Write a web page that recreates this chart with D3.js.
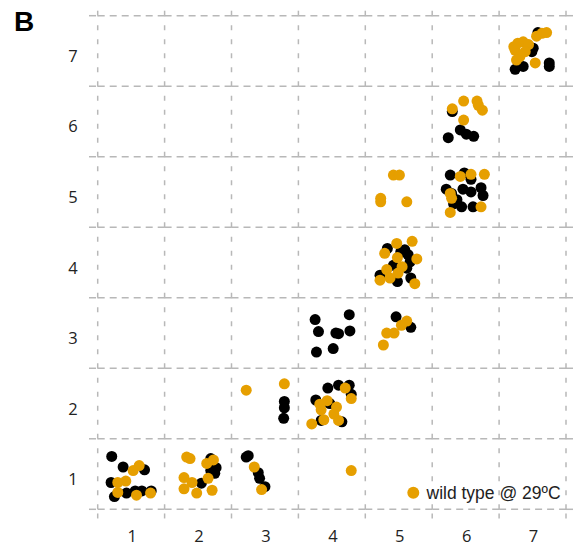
<!DOCTYPE html>
<html>
<head>
<style>
  body { margin: 0; background: #fff; }
  .tick-label { font: 16.5px "Open Sans", sans-serif; fill: #222; text-anchor: middle; }
  .panel-tag { font: bold 28px "Liberation Sans", Arial, sans-serif; fill: #000; }
  .legend text { font: 17.5px "Liberation Sans", Arial, sans-serif; fill: #222; }
</style>
<script src="https://d3js.org/d3.v7.min.js"></script>
</head>
<body>
<svg width="576" height="550"></svg>
<script>
// categories on both axes
var xTicks = [1, 2, 3, 4, 5, 6, 7];
var yTicks = [1, 2, 3, 4, 5, 6, 7];

// jittered points, [x, y]
var blackPoints = [
  [0.71,1.25],[0.88,1.10],[1.20,1.06],[0.70,0.88],[0.75,0.68],[0.93,0.73],[1.06,0.76],[1.16,0.76],[1.30,0.76],
  [2.19,1.22],[2.19,1.05],[2.25,1.01],[2.05,0.87],[2.27,1.09],
  [2.72,1.24],[2.75,1.26],[2.90,1.02],[2.92,0.94],[3.00,0.82],
  [3.29,2.03],[3.29,1.94],[3.28,1.79],
  [3.94,2.22],[4.10,2.26],[4.26,2.26],[4.29,2.13],[3.76,2.05],[3.97,2.00],[3.84,1.76],[4.15,1.74],
  [3.75,3.19],[3.80,3.02],[4.06,3.00],[4.10,2.99],[4.26,3.26],[4.27,3.03],[3.77,2.73],[4.02,2.78],
  [4.96,3.23],[5.18,3.08],
  [4.83,4.20],[5.09,4.18],[5.14,4.11],[4.92,3.96],[5.12,3.92],[5.18,3.78],[4.72,3.82],[4.98,3.73],[5.17,4.01],[5.03,4.15],
  [5.77,5.24],[5.98,5.27],[6.08,5.18],[5.71,5.04],[5.96,5.04],[6.08,5.00],[6.23,5.06],[6.26,4.95],[5.82,4.83],[5.94,4.79],[6.11,4.79],[5.79,4.98],[5.87,4.89],
  [5.80,6.14],[5.74,5.77],[5.92,5.88],[6.01,5.82],[6.12,5.79],
  [6.74,6.74],[6.86,6.78],[7.25,6.83],[7.25,6.78],[7.01,7.04],[6.99,6.99],[7.08,7.26]
];

var orangePoints = [
  [1.12,1.12],[1.03,1.05],[0.92,0.90],[0.80,0.88],[0.80,0.74],[1.08,0.70],[1.29,0.73],
  [1.83,1.24],[1.88,1.22],[1.79,0.95],[1.91,0.88],[1.79,0.79],[1.98,0.73],[2.13,1.15],[2.23,1.20],[2.15,0.94],[2.21,0.77],
  [2.84,1.10],[2.95,0.78],
  [2.72,2.19],[3.29,2.28],
  [4.20,2.22],[4.29,2.07],[3.93,2.04],[3.82,1.99],[3.84,1.91],[4.07,1.95],[4.03,1.85],[3.88,1.77],[3.70,1.71],[4.10,1.76],
  [4.29,1.05],
  [5.12,3.17],[5.04,3.11],[4.93,3.00],[4.82,3.00],[4.77,2.83],
  [4.97,4.27],[5.20,4.30],[4.98,4.07],[5.27,4.05],[4.82,3.90],[5.05,3.94],[4.99,3.85],[4.72,3.75],[4.87,3.78],[5.24,3.70],[4.79,4.13],
  [4.92,5.24],[5.01,5.24],[4.73,4.91],[4.73,4.86],[5.12,4.86],
  [5.92,5.22],[6.08,5.25],[6.28,5.25],[5.77,4.98],[5.79,4.91],[6.23,4.79],[5.77,4.71],
  [5.80,6.18],[5.97,6.29],[6.17,6.29],[6.19,6.23],[6.25,6.16],[5.97,6.02],
  [6.74,7.01],[6.86,7.13],[6.81,6.92],[7.04,6.83],[7.06,7.21],[7.14,7.25],[7.21,7.26],[6.94,7.09],[6.76,6.87],[6.72,7.06],[6.89,6.99],[6.78,7.11]
];

var legendLabel = "wild type @ 29\u00BAC";

var svg = d3.select("svg");

var x = d3.scaleLinear().domain([0.5, 7.5]).range([97.7, 566]);
var y = d3.scaleLinear().domain([0.5, 7.5]).range([509.3, 15.7]);

// grid: dashed segments between cell corners
var stops = [0.37].concat(d3.range(0.5, 8, 1)).concat([7.63]);
var bounds = d3.range(0.5, 8, 1);
var segs = [];
bounds.forEach(function (b) {
  for (var i = 0; i < stops.length - 1; i++) {
    segs.push({ x1: x(stops[i]), x2: x(stops[i + 1]), y1: y(b), y2: y(b), h: true });
    segs.push({ x1: x(b), x2: x(b), y1: y(stops[i]), y2: y(stops[i + 1]), h: false });
  }
});

svg.append("g").selectAll("line")
  .data(segs)
  .enter().append("line")
  .attr("x1", function (d) { return d.x1; })
  .attr("x2", function (d) { return d.x2; })
  .attr("y1", function (d) { return d.y1; })
  .attr("y2", function (d) { return d.y2; })
  .attr("stroke", "#b8b8b8")
  .attr("stroke-width", 1.5)
  .attr("stroke-dasharray", function (d) { return d.h ? "7,5" : "5,9"; });

// tick labels
svg.append("g").selectAll("text")
  .data(xTicks)
  .enter().append("text")
  .attr("class", "tick-label")
  .attr("x", function (d) { return x(d) + 1; })
  .attr("y", 542)
  .text(function (d) { return d; });

svg.append("g").selectAll("text")
  .data(yTicks)
  .enter().append("text")
  .attr("class", "tick-label")
  .attr("x", 73)
  .attr("y", function (d) { return y(d) + 11; })
  .text(function (d) { return d; });

// points
svg.append("g").selectAll("circle")
  .data(blackPoints)
  .enter().append("circle")
  .attr("cx", function (d) { return x(d[0]); })
  .attr("cy", function (d) { return y(d[1]); })
  .attr("r", 5.5)
  .attr("fill", "#000");

svg.append("g").selectAll("circle")
  .data(orangePoints)
  .enter().append("circle")
  .attr("cx", function (d) { return x(d[0]); })
  .attr("cy", function (d) { return y(d[1]); })
  .attr("r", 5.5)
  .attr("fill", "#E69F00");

// legend
var legend = svg.append("g").attr("class", "legend");
legend.append("circle").attr("cx", 413.3).attr("cy", 492.7).attr("r", 6).attr("fill", "#E69F00");
legend.append("text").attr("x", 426.5).attr("y", 499).text(legendLabel);

svg.append("text").attr("class", "panel-tag").attr("x", 14).attr("y", 31).text("B");
</script>
</body>
</html>
